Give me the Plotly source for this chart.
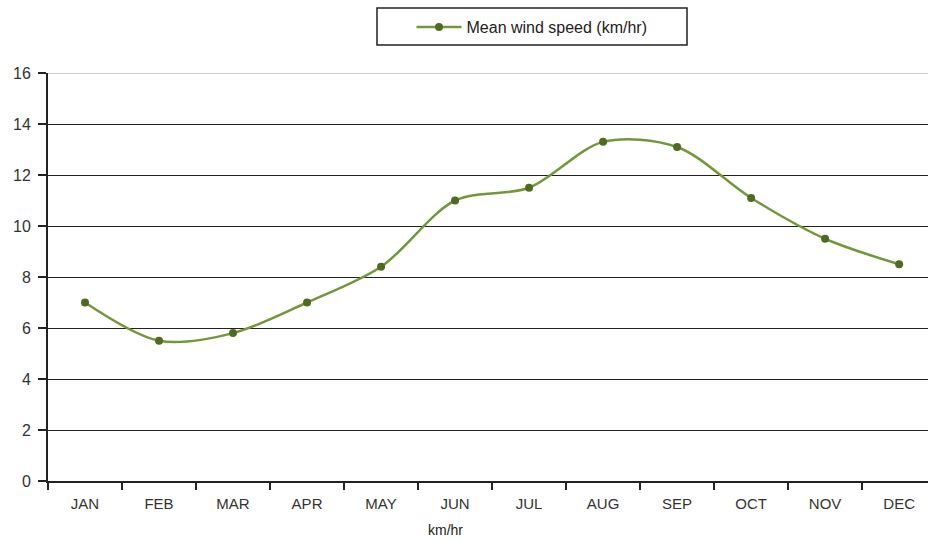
import plotly.graph_objects as go

months = ["JAN", "FEB", "MAR", "APR", "MAY", "JUN", "JUL", "AUG", "SEP", "OCT", "NOV", "DEC"]
wind_speed = [7.0, 5.5, 5.8, 7.0, 8.4, 11.0, 11.5, 13.3, 13.1, 11.1, 9.5, 8.5]
y_ticks = [0, 2, 4, 6, 8, 10, 12, 14, 16]

fig = go.Figure()

fig.add_trace(go.Scatter(
    x=months,
    y=wind_speed,
    mode='lines+markers',
    name='Mean wind speed (km/hr)',
    line=dict(color='#76963A', width=2.5, shape='spline', smoothing=0.9),
    marker=dict(size=8, color='#4F6B22'),
))

# legend frame
fig.add_shape(type='rect', xref='paper', yref='paper',
              x0=(377 - 48) / 880, x1=(687 - 48) / 880,
              y0=(481 - 45) / 408, y1=(481 - 8) / 408,
              line=dict(color='#222', width=1.5), fillcolor='rgba(0,0,0,0)')

# lighter top gridline
fig.add_shape(type='line', xref='paper', yref='y', x0=0, x1=1, y0=16, y1=16,
              line=dict(color='#999', width=1))

fig.add_annotation(text='km/hr', xref='paper', yref='paper',
                   x=(445 - 48) / 880, y=-(530 - 481) / 408,
                   xanchor='center', yanchor='middle',
                   showarrow=False, font=dict(size=14, color='#222'))

fig.update_layout(
    width=928, height=541,
    paper_bgcolor='white',
    plot_bgcolor='white',
    font=dict(family='Arial, Liberation Sans, sans-serif', color='#222'),
    margin=dict(l=48, r=0, t=73, b=60),
    showlegend=True,
    legend=dict(
        x=(532 - 48) / 880, xanchor='center',
        y=(481 - 27) / 408, yanchor='middle',
        bgcolor='rgba(0,0,0,0)',
        font=dict(size=16, color='#222'),
        itemwidth=45,
    ),
    xaxis=dict(
        type='category',
        range=[-0.5, 11.39],
        tickson='boundaries',
        ticks='outside', ticklen=7, tickwidth=1.5, tickcolor='#222',
        showline=True, linecolor='#222', linewidth=1.5,
        showgrid=False,
        ticklabelstandoff=8,
        tickfont=dict(size=15, color='#333'),
    ),
    yaxis=dict(
        range=[0, 16],
        tickvals=y_ticks,
        ticks='outside', ticklen=8, tickwidth=1.5, tickcolor='#222',
        showline=True, linecolor='#222', linewidth=2,
        showgrid=True, gridcolor='#222', gridwidth=1.3,
        zeroline=False,
        ticklabelstandoff=4,
        tickfont=dict(size=16, color='#333'),
    ),
)

fig.write_html("out.html", config={'displayModeBar': False},
               post_script="document.body.style.margin='0';")
